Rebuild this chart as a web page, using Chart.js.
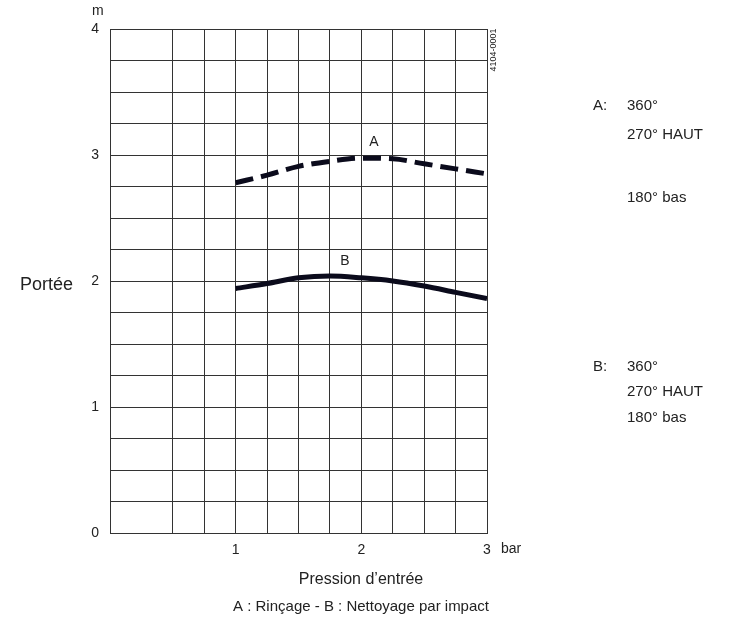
<!DOCTYPE html>
<html>
<head>
<meta charset="utf-8">
<script src="https://cdn.jsdelivr.net/npm/chart.js@4"></script>
<style>
  html, body { margin: 0; padding: 0; background: #fff; }
  #chart { display: block; }
</style>
</head>
<body>
<canvas id="chart" width="750" height="626"></canvas>
<script>
// values (pressure in bar, range in m)
const pressures = [1, 1.25, 1.5, 1.75, 2, 2.25, 2.5, 2.75, 3];
const rangeA = [2.78, 2.84, 2.91, 2.95, 2.975, 2.97, 2.93, 2.89, 2.85];
const rangeB = [1.94, 1.98, 2.025, 2.04, 2.025, 2.0, 1.96, 1.91, 1.86];
const xGrid = [0, 0.5, 0.75, 1, 1.25, 1.5, 1.75, 2, 2.25, 2.5, 2.75, 3];
const xLabels = [1, 2, 3];
const yLabels = [0, 1, 2, 3, 4];

const ink = '#222';
const lineInk = '#0b0b1c';
const font = '"Liberation Sans", Arial, sans-serif';

const toPoints = (ys) => pressures.map((p, i) => ({ x: p, y: ys[i] }));

// extra texts around the plot
const textPlugin = {
    id: 'texts',
    afterDraw(chart) {
        const { ctx, scales: { x, y } } = chart;
        ctx.save();
        ctx.fillStyle = ink;
        ctx.textBaseline = 'middle';

        ctx.font = '14px ' + font;
        ctx.textAlign = 'left';
        ctx.fillText('m', 92, 11);
        ctx.fillText('bar', x.getPixelForValue(3) + 14, 549);

        ctx.font = '18px ' + font;
        ctx.textAlign = 'right';
        ctx.fillText('Portée', 73, 285);

        // curve labels
        ctx.font = '14px ' + font;
        ctx.textAlign = 'center';
        ctx.fillText('A', x.getPixelForValue(2.1), y.getPixelForValue(3.1));
        ctx.fillText('B', x.getPixelForValue(1.87), y.getPixelForValue(2.16));

        // right hand notes
        ctx.font = '15px ' + font;
        ctx.textAlign = 'left';
        ctx.fillText('A:', 593, 106);
        ctx.fillText('360°', 627, 106);
        ctx.fillText('270° HAUT', 627, 135);
        ctx.fillText('180° bas', 627, 198);
        ctx.fillText('B:', 593, 367);
        ctx.fillText('360°', 627, 367);
        ctx.fillText('270° HAUT', 627, 392);
        ctx.fillText('180° bas', 627, 418);

        // bottom titles
        ctx.textAlign = 'center';
        ctx.font = '16px ' + font;
        ctx.fillText('Pression d\u2019entrée', 361, 580);
        ctx.font = '15px ' + font;
        ctx.fillText('A : Rinçage - B : Nettoyage par impact', 361, 607);

        // figure code
        ctx.font = '9px ' + font;
        ctx.translate(494, 50);
        ctx.rotate(-Math.PI / 2);
        ctx.fillText('4104-0001', 0, 0);
        ctx.restore();
    }
};

new Chart(document.getElementById('chart'), {
    type: 'line',
    data: {
        datasets: [
            {
                label: 'A',
                data: toPoints(rangeA),
                borderColor: lineInk,
                borderWidth: 5,
                borderDash: [18, 8],
                pointRadius: 0,
                cubicInterpolationMode: 'monotone',
                fill: false
            },
            {
                label: 'B',
                data: toPoints(rangeB),
                borderColor: lineInk,
                borderWidth: 5,
                pointRadius: 0,
                cubicInterpolationMode: 'monotone',
                fill: false
            }
        ]
    },
    options: {
        responsive: false,
        animation: false,
        devicePixelRatio: 1,
        layout: { padding: { left: 0, right: 263, top: 29, bottom: 63 } },
        plugins: {
            legend: { display: false },
            tooltip: { enabled: false }
        },
        scales: {
            x: {
                type: 'linear',
                min: 0,
                max: 3,
                afterBuildTicks: (scale) => { scale.ticks = xGrid.map(v => ({ value: v })); },
                afterFit: (scale) => { scale.height = 30; },
                grid: { color: '#333', lineWidth: 1, drawTicks: false },
                border: { color: '#333' },
                ticks: {
                    padding: 9,
                    color: ink,
                    maxRotation: 0,
                    autoSkip: false,
                    font: { family: font, size: 14 },
                    callback: (v) => xLabels.includes(v) ? String(v) : ''
                }
            },
            y: {
                min: 0,
                max: 4,
                afterFit: (scale) => { scale.width = 110; },
                grid: { color: '#333', lineWidth: 1, drawTicks: false },
                border: { color: '#333' },
                ticks: {
                    stepSize: 0.25,
                    padding: 11,
                    color: ink,
                    autoSkip: false,
                    font: { family: font, size: 14 },
                    callback: (v) => yLabels.includes(v) ? String(v) : ''
                }
            }
        }
    },
    plugins: [textPlugin]
});
</script>
</body>
</html>
